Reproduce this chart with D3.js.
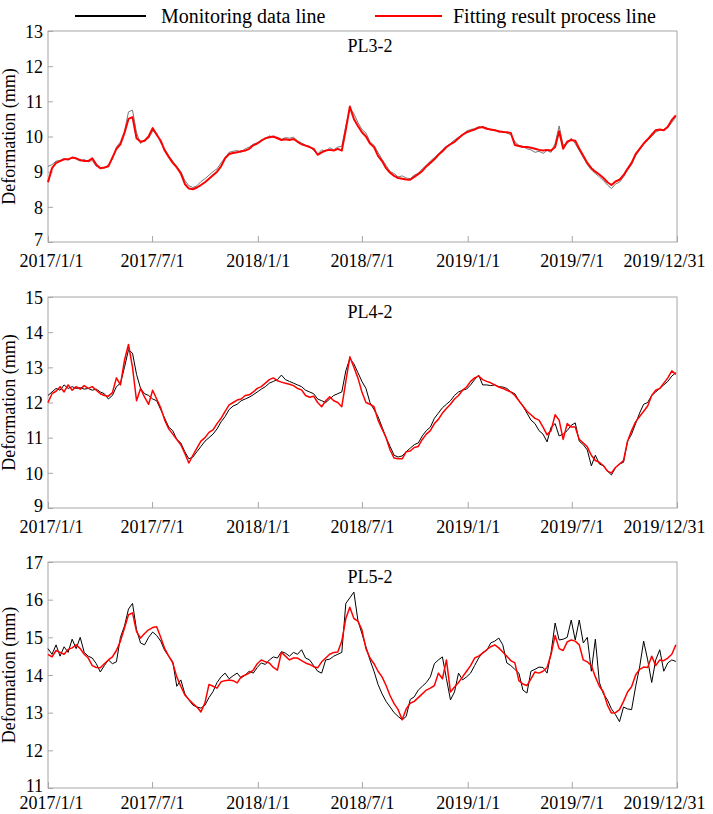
<!DOCTYPE html>
<html>
<head>
<meta charset="utf-8">
<script src="https://cdn.jsdelivr.net/npm/d3@7/dist/d3.min.js"></script>
<style>
  body { margin: 0; background: #fff; }
  svg { display: block; }
  text { font-family: "Liberation Serif", "Times New Roman", serif; fill: #000; }
</style>
</head>
<body>
<svg id="chart"></svg>
<script>
  const W = 713, H = 814;
  const START = "2017/1/1", END = "2019/12/31", STEP = 7; // one sample every 7 days
  const xTickLabels = ["2017/1/1", "2017/7/1", "2018/1/1", "2018/7/1", "2019/1/1", "2019/7/1", "2019/12/31"];
  const seriesNames = ["Monitoring data line", "Fitting result process line"];
  const panelNames = ["PL3-2", "PL4-2", "PL5-2"];
  const yDomains = [[7, 13], [9, 15], [11, 17]];

  // PL3-2
  const pl3Mon = [9.15,9.2,9.3,9.32,9.38,9.33,9.4,9.36,9.3,9.35,9.28,9.32,9.15,9.12,9.1,9.2,9.35,9.7,9.85,10.15,
    10.7,10.75,10.1,9.8,9.9,9.95,10.15,10.1,9.82,9.65,9.45,9.3,9.15,9.0,8.75,8.6,8.55,8.6,8.72,8.8,
    8.9,9.0,9.08,9.25,9.4,9.55,9.58,9.6,9.55,9.65,9.7,9.78,9.82,9.9,9.93,10.02,9.97,9.98,9.92,9.97,
    9.95,9.98,9.88,9.82,9.75,9.72,9.6,9.5,9.62,9.58,9.68,9.62,9.7,9.72,10.3,10.8,10.65,10.4,10.2,10.1,
    9.85,9.75,9.55,9.35,9.18,9.0,8.95,8.85,8.88,8.82,8.8,8.9,8.95,9.08,9.18,9.3,9.4,9.5,9.62,9.72,
    9.8,9.9,9.98,10.05,10.15,10.2,10.22,10.28,10.25,10.25,10.18,10.2,10.12,10.15,10.1,10.05,9.85,9.75,9.72,9.65,
    9.62,9.55,9.58,9.52,9.6,9.55,9.8,10.3,9.75,9.8,9.95,9.8,9.6,9.4,9.2,9.05,8.95,8.85,8.75,8.62,
    8.52,8.65,8.7,8.85,9.05,9.2,9.45,9.62,9.78,9.9,10.0,10.12,10.18,10.2,10.25,10.4,10.55];
  const pl3Fit = [8.7,9.1,9.25,9.3,9.35,9.35,9.4,9.38,9.33,9.3,9.3,9.38,9.2,9.1,9.12,9.15,9.4,9.65,9.78,10.1,
    10.5,10.55,9.95,9.85,9.88,10.0,10.24,10.05,9.88,9.6,9.42,9.25,9.12,8.95,8.65,8.52,8.5,8.55,8.62,8.7,
    8.8,8.9,9.0,9.15,9.38,9.5,9.53,9.55,9.58,9.6,9.65,9.75,9.8,9.88,9.95,9.98,10.0,9.95,9.9,9.92,
    9.9,9.93,9.85,9.78,9.74,9.7,9.65,9.48,9.55,9.6,9.62,9.6,9.65,9.6,10.2,10.85,10.5,10.3,10.12,10.0,
    9.8,9.7,9.45,9.3,9.1,8.97,8.88,8.82,8.8,8.78,8.77,8.85,8.93,9.02,9.15,9.25,9.35,9.48,9.58,9.7,
    9.78,9.85,9.95,10.05,10.12,10.16,10.2,10.25,10.27,10.22,10.2,10.18,10.15,10.13,10.12,10.1,9.76,9.73,9.7,9.7,
    9.68,9.65,9.62,9.6,9.62,9.6,9.7,10.15,9.65,9.85,9.9,9.88,9.65,9.45,9.25,9.1,9.0,8.92,8.82,8.7,
    8.62,8.72,8.77,8.9,9.08,9.25,9.5,9.65,9.8,9.92,10.05,10.18,10.2,10.18,10.28,10.47,10.6];

  // PL4-2
  const pl4Mon = [12.2,12.3,12.4,12.35,12.5,12.4,12.45,12.4,12.42,12.38,12.4,12.35,12.38,12.3,12.25,12.1,12.2,12.45,12.55,13.0,
    13.5,13.4,12.8,12.4,12.25,12.2,12.1,12.05,11.8,11.55,11.3,11.2,10.95,10.85,10.6,10.4,10.45,10.6,10.75,10.9,
    11.0,11.1,11.25,11.45,11.6,11.8,11.9,11.95,12.05,12.1,12.15,12.22,12.3,12.38,12.45,12.55,12.6,12.65,12.78,12.65,
    12.6,12.55,12.5,12.45,12.35,12.3,12.25,12.1,12.05,12.0,12.1,12.2,12.25,12.3,12.9,13.25,13.1,12.85,12.6,12.4,
    12.0,11.8,11.6,11.3,11.0,10.75,10.5,10.45,10.48,10.6,10.7,10.8,10.85,11.05,11.2,11.3,11.55,11.7,11.85,11.95,
    12.05,12.2,12.3,12.35,12.38,12.5,12.65,12.78,12.5,12.5,12.48,12.5,12.45,12.44,12.4,12.3,12.25,12.05,11.9,11.7,
    11.5,11.4,11.2,11.1,10.88,11.3,11.4,11.05,11.1,11.2,11.35,11.42,10.9,10.8,10.65,10.2,10.5,10.25,10.2,10.05,
    9.94,10.15,10.25,10.3,10.9,11.1,11.4,11.7,11.95,12.0,12.2,12.3,12.4,12.5,12.6,12.75,12.85];
  const pl4Fit = [12.0,12.25,12.32,12.45,12.3,12.5,12.35,12.45,12.38,12.48,12.4,12.45,12.35,12.25,12.2,12.18,12.28,12.7,12.5,13.2,
    13.65,13.0,12.05,12.4,12.15,11.95,12.35,12.1,11.85,11.5,11.25,11.1,10.95,10.8,10.55,10.28,10.5,10.7,10.9,11.0,
    11.15,11.22,11.4,11.55,11.75,11.93,12.0,12.07,12.1,12.2,12.22,12.3,12.4,12.45,12.55,12.65,12.7,12.62,12.58,12.55,
    12.52,12.48,12.4,12.36,12.2,12.15,12.18,12.0,11.88,12.05,12.16,12.05,12.0,11.88,12.6,13.3,13.0,12.7,12.3,12.0,
    11.95,11.88,11.5,11.25,11.0,10.65,10.42,10.4,10.4,10.6,10.62,10.72,10.75,10.95,11.1,11.2,11.4,11.52,11.7,11.83,
    11.95,12.1,12.2,12.35,12.44,12.6,12.7,12.75,12.65,12.6,12.56,12.5,12.44,12.4,12.35,12.3,12.2,12.05,11.9,11.75,
    11.65,11.55,11.5,11.3,11.08,11.2,11.65,11.5,10.95,11.4,11.3,11.3,10.95,10.85,10.74,10.5,10.35,10.3,10.2,10.05,
    10.0,10.15,10.25,10.35,10.9,11.2,11.45,11.6,11.75,11.9,12.2,12.35,12.4,12.55,12.7,12.9,12.8];

  // PL5-2
  const pl5Mon = [14.7,14.55,14.8,14.5,14.75,14.6,14.95,14.7,15.0,14.6,14.5,14.45,14.3,14.08,14.25,14.4,14.3,14.35,15.0,15.3,
    15.75,15.9,15.2,14.85,14.8,15.0,15.14,15.05,14.9,14.65,14.5,14.35,13.7,13.87,13.5,13.34,13.2,13.15,13.12,13.2,
    13.4,13.56,13.8,13.95,14.05,13.9,13.98,14.05,13.92,14.0,14.1,14.05,14.2,14.32,14.28,14.4,14.48,14.45,14.62,14.58,
    14.5,14.6,14.55,14.67,14.45,14.4,14.25,14.1,14.05,14.4,14.42,14.5,14.55,14.6,15.9,16.05,16.2,15.45,15.1,14.75,
    14.4,14.1,13.75,13.5,13.3,13.15,13.0,12.9,12.81,12.9,13.35,13.42,13.6,13.7,13.8,13.95,14.3,14.4,14.48,13.9,
    13.34,13.55,14.05,13.87,13.95,14.05,14.25,14.45,14.6,14.65,14.85,14.9,14.98,14.8,14.32,14.25,14.15,14.05,13.6,13.52,
    14.1,14.15,14.21,14.2,14.05,14.6,15.38,14.93,14.95,15.0,15.46,14.93,15.46,14.85,15.0,14.1,14.95,13.8,13.5,13.34,
    13.1,12.95,12.76,13.15,13.1,13.08,13.69,14.21,14.9,14.4,13.8,14.4,14.67,14.1,14.32,14.4,14.36];
  const pl5Fit = [14.55,14.48,14.65,14.6,14.55,14.68,14.72,14.8,14.7,14.55,14.45,14.25,14.2,14.19,14.3,14.4,14.48,14.65,14.9,15.25,
    15.6,15.65,15.15,14.98,15.1,15.2,15.26,15.28,15.0,14.7,14.5,14.32,13.95,13.7,13.47,13.35,13.24,13.15,13.02,13.26,
    13.75,13.7,13.65,13.82,13.85,13.87,13.85,13.79,13.95,14.0,14.05,14.13,14.3,14.4,14.35,14.32,14.2,14.13,14.6,14.5,
    14.4,14.45,14.45,14.38,14.32,14.28,14.22,14.19,14.35,14.45,14.55,14.6,14.61,14.9,15.5,15.8,15.5,15.43,15.2,14.7,
    14.45,14.3,14.1,13.95,13.72,13.45,13.24,13.08,12.81,13.1,13.25,13.3,13.4,13.5,13.6,13.65,13.72,14.05,13.9,14.4,
    13.55,13.68,13.8,13.95,14.1,14.25,14.45,14.5,14.58,14.67,14.75,14.8,14.72,14.61,14.5,14.38,14.32,13.85,13.76,13.72,
    13.9,14.08,14.05,14.1,14.2,14.55,15.05,14.7,14.65,14.88,14.93,14.9,14.8,14.4,14.35,14.25,13.95,13.7,13.55,13.2,
    12.99,13.0,13.08,13.3,13.55,13.69,14.0,14.15,14.21,14.2,14.5,14.25,14.4,14.38,14.45,14.55,14.8];

  const monData = [pl3Mon, pl4Mon, pl5Mon];
  const fitData = [pl3Fit, pl4Fit, pl5Fit];

  // layout of the three panels (label = baseline offset of the date labels)
  const L = 48, R = 677;
  const boxes = [{ top: 31, bottom: 242, label: 25 }, { top: 297, bottom: 508, label: 25 }, { top: 562, bottom: 788, label: 21 }];
  const AX = "#a6a6a6", FONT = "'Liberation Serif', 'Times New Roman', serif";

  const parse = d3.timeParse("%Y/%m/%d");
  const t0 = parse(START);
  const x = d3.scaleTime().domain([t0, parse(END)]).range([L, R]);
  const dateAt = i => d3.timeDay.offset(t0, i * STEP);

  const svg = d3.select("#chart").attr("width", W).attr("height", H);

  // legend
  const leg = svg.append("g");
  [[75, 146, "#000", 161], [375, 442, "#ff0000", 453]].forEach(([x1, x2, c, tx], k) => {
    leg.append("line").attr("x1", x1).attr("x2", x2).attr("y1", 16).attr("y2", 16)
      .attr("stroke", c).attr("stroke-width", 2);
    leg.append("text").attr("x", tx).attr("y", 23).attr("font-size", 20).style("font-family", FONT)
      .text(seriesNames[k]);
  });

  boxes.forEach((b, p) => {
    const g = svg.append("g");
    const y = d3.scaleLinear().domain(yDomains[p]).range([b.bottom, b.top]);

    // frame
    g.append("rect").attr("x", L).attr("y", b.top).attr("width", R - L).attr("height", b.bottom - b.top)
      .attr("fill", "none").attr("stroke", AX).attr("stroke-width", 1);

    // y axis (inward ticks)
    const ya = g.append("g").attr("transform", `translate(${L},0)`)
      .call(d3.axisRight(y).ticks(6).tickFormat(d3.format("d")).tickSize(5));
    ya.select(".domain").remove();
    ya.selectAll("line").attr("stroke", AX);
    ya.selectAll("text").attr("text-anchor", "end").attr("font-size", 18)
      .style("font-family", FONT).attr("dy", (d, i) => i === 0 ? "0.2em" : "0.35em").attr("x", -5);

    // x axis (inward ticks); last label pulled in so it stays on the page
    const xa = g.append("g").attr("transform", `translate(0,${b.bottom})`)
      .call(d3.axisTop(x).tickValues(xTickLabels.map(parse)).tickSize(6)
        .tickFormat(d3.timeFormat("%Y/%-m/%-d")));
    xa.select(".domain").remove();
    xa.selectAll("line").attr("stroke", AX);
    xa.selectAll("text").attr("font-size", 18).style("font-family", FONT)
      .attr("y", b.label).attr("dy", 0)
      .attr("text-anchor", (d, i) => i === xTickLabels.length - 1 ? "end" : "middle")
      .attr("x", (d, i) => i === xTickLabels.length - 1 ? 28 : (i === 0 ? 3 : 0));

    // y title
    g.append("text").attr("transform", `translate(15,${(b.top + b.bottom) / 2}) rotate(-90)`)
      .attr("text-anchor", "middle").attr("font-size", 18).style("font-family", FONT)
      .text("Deformation (mm)");

    // panel title
    g.append("text").attr("x", 370).attr("y", b.top + 21).attr("text-anchor", "middle")
      .attr("font-size", 18).style("font-family", FONT).text(panelNames[p]);

    const line = d3.line().x((d, i) => x(dateAt(i))).y(d => y(d));
    g.append("path").datum(monData[p]).attr("d", line).attr("fill", "none")
      .attr("stroke", p === 0 ? "#777" : "#000").attr("stroke-width", 1);
    g.append("path").datum(fitData[p]).attr("d", line).attr("fill", "none")
      .attr("stroke", "#ff0000").attr("stroke-width", p === 0 ? 2 : 1.5).attr("stroke-linejoin", "round");
  });
</script>
</body>
</html>
